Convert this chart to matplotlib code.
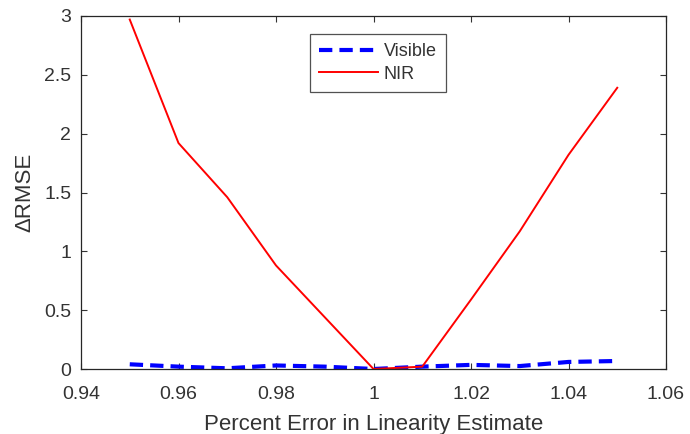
import numpy as np
import matplotlib.pyplot as plt

plt.rcParams["font.family"] = ["Liberation Sans", "DejaVu Sans"]

# linearity scaling factor
x_vals = [0.95, 0.96, 0.97, 0.98, 0.99, 1.00, 1.01, 1.02, 1.03, 1.04, 1.05]
visible = [0.04, 0.02, 0.006, 0.03, 0.02, 0.0, 0.02, 0.035, 0.025, 0.06, 0.068]
nir = [2.97, 1.92, 1.46, 0.88, 0.44, 0.0, 0.02, 0.59, 1.17, 1.82, 2.39]

x_ticks = [0.94, 0.96, 0.98, 1.00, 1.02, 1.04, 1.06]
x_tick_labels = ["0.94", "0.96", "0.98", "1", "1.02", "1.04", "1.06"]
y_ticks = [0, 0.5, 1, 1.5, 2, 2.5, 3]
y_tick_labels = ["0", "0.5", "1", "1.5", "2", "2.5", "3"]

fig = plt.figure(figsize=(6.9, 4.34), dpi=100)
ax = fig.add_axes([81 / 690, 65 / 434, 585 / 690, 353 / 434])

ax.plot(x_vals, visible, color="#0000ff", lw=3, linestyle=(0, (3.2, 1.7)), label="Visible")
ax.plot(x_vals, nir, color="#ff0000", lw=1.4, label="NIR")

ax.set_xlim(0.94, 1.06)
ax.set_ylim(0, 3)
ax.set_xticks(x_ticks)
ax.set_xticklabels(x_tick_labels)
ax.set_yticks(y_ticks)
ax.set_yticklabels(y_tick_labels)

grey = "#333333"
ax.tick_params(direction="in", length=4, width=0.8, top=True, right=True,
               labelsize=14, colors=grey)
ax.tick_params(axis="x", pad=12)
ax.tick_params(axis="y", pad=7)
for s in ax.spines.values():
    s.set_color("#262626")
    s.set_linewidth(0.9)

ax.set_xlabel("Percent Error in Linearity Estimate", fontsize=16, color=grey, labelpad=8)
ax.set_ylabel("\u0394RMSE", fontsize=16, color=grey, labelpad=6)

leg = ax.legend(loc="upper left", bbox_to_anchor=(0.391, 0.948), fontsize=13,
                frameon=True, fancybox=False, borderpad=0.5, handlelength=3.3,
                handletextpad=0.3, labelspacing=0.3, borderaxespad=0)
leg.get_frame().set_edgecolor("#262626")
leg.get_frame().set_linewidth(0.9)
for t in leg.get_texts():
    t.set_color(grey)

fig.savefig("out.png", dpi=100)
plt.close(fig)
